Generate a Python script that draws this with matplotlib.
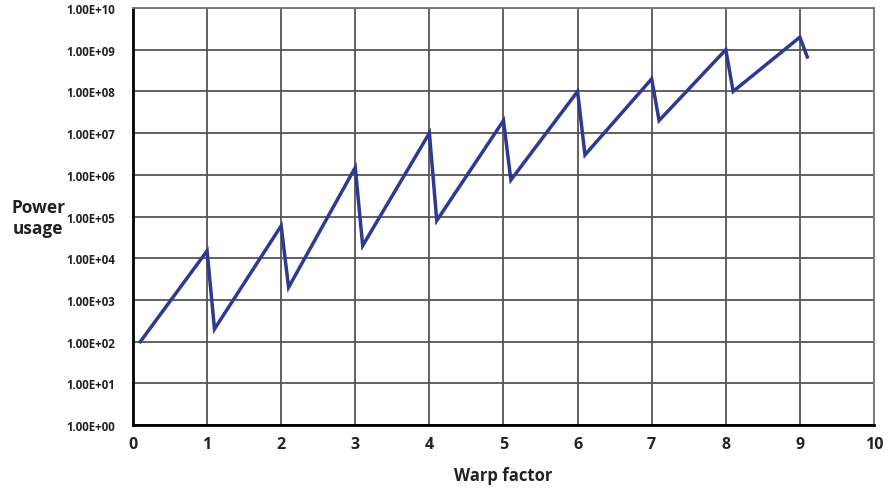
import matplotlib
matplotlib.use("Agg")
import matplotlib.pyplot as plt
from matplotlib.ticker import FixedLocator, FuncFormatter

# warp factor vs power usage
warp = [0.1, 1.0, 1.1, 2.0, 2.1, 3.0, 3.1, 4.0, 4.1, 5.0,
        5.1, 6.0, 6.1, 7.0, 7.1, 8.0, 8.1, 9.0, 9.1]
power = [1e2, 1.5e4, 2e2, 6e4, 2e3, 1.5e6, 2e4, 1e7, 8e4, 2e7,
         7.5e5, 1e8, 3e6, 2e8, 2e7, 1e9, 1e8, 2e9, 6.7e8]
x_ticks = list(range(0, 11))
y_ticks = [10.0 ** k for k in range(0, 11)]

plt.rcParams['font.family'] = ['Open Sans', 'DejaVu Sans']

fig = plt.figure(figsize=(8.9, 4.89), dpi=100)
ax = fig.add_axes([0.1494, 0.1288, 0.8326, 0.8528])

ax.plot(warp, power, color='#2e3a92', linewidth=2.5, solid_joinstyle='miter', zorder=3)

ax.set_yscale('log')
ax.set_xlim(0, 10)
ax.set_ylim(1, 1e10)
ax.xaxis.set_major_locator(FixedLocator(x_ticks))
ax.yaxis.set_major_locator(FixedLocator(y_ticks))
ax.yaxis.set_minor_locator(FixedLocator([]))
ax.yaxis.set_major_formatter(FuncFormatter(lambda v, p: f"{v:.2E}"))

ax.grid(True, color='#555555', linewidth=1.3, zorder=1)
ax.set_axisbelow(True)

for side in ['left', 'bottom']:
    ax.spines[side].set_color('black')
    ax.spines[side].set_linewidth(2.0)
for side in ['top', 'right']:
    ax.spines[side].set_color('#777777')
    ax.spines[side].set_linewidth(1.3)

ax.tick_params(axis='both', length=0)
ax.tick_params(axis='y', labelsize=8.3, pad=13)
ax.tick_params(axis='x', labelsize=11.5, pad=8)
for lbl in ax.get_xticklabels() + ax.get_yticklabels():
    lbl.set_fontweight('bold')
    lbl.set_color('#222222')

ax.set_xlabel('Warp factor', fontsize=12, fontweight='bold', color='#222222', labelpad=10)
fig.text(0.043, 0.553, 'Power\nusage', fontsize=12.5, fontweight='bold',
         color='#222222', ha='center', va='center', linespacing=1.25)

fig.savefig('out.png', dpi=100)
